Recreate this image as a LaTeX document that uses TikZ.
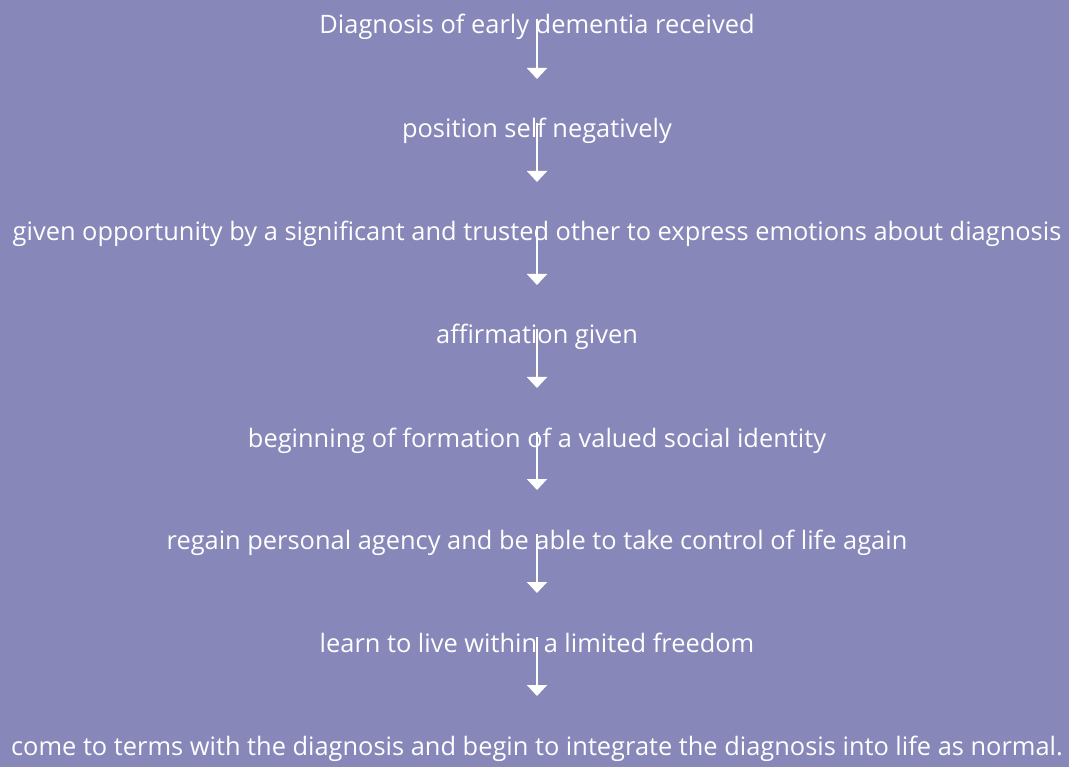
\documentclass[tikz,border=0pt]{standalone}
\usepackage{fontspec}
\setmainfont{Open Sans}
\usetikzlibrary{arrows.meta}
\definecolor{bg}{RGB}{135,135,185}
\tikzset{
  stage/.style={text=white, font=\fontsize{25.4}{30}\selectfont, inner sep=0pt, anchor=base},
  flow/.style={white, line width=2pt, -{Triangle[width=20pt,length=11pt]}}
}
\begin{document}
\begin{tikzpicture}[x=1pt,y=-1pt]
\fill[bg] (0,0) rectangle (1069,767);
\useasboundingbox (0,0) rectangle (1069,767);
\node[stage] (t1) at (537,34) {Diagnosis of early dementia received};
\node[stage] (t2) at (537,138) {position self negatively};
\node[stage] (t3) at (537,241) {given opportunity by a significant and trusted other to express emotions about diagnosis};
\node[stage] (t4) at (537,344) {affirmation given};
\node[stage] (t5) at (537,447) {beginning of formation of a valued social identity};
\node[stage] (t6) at (537,549) {regain personal agency and be able to take control of life again};
\node[stage] (t7) at (537,652) {learn to live within a limited freedom};
\node[stage] (t8) at (537,755) {come to terms with the diagnosis and begin to integrate the diagnosis into life as normal.};
\foreach \a/\b in {t1/t2,t2/t3,t3/t4,t4/t5,t5/t6,t6/t7,t7/t8}
  \draw[flow] ([yshift=15pt]\a.base) -- ([yshift=59pt]\b.base);
\end{tikzpicture}
\end{document}
